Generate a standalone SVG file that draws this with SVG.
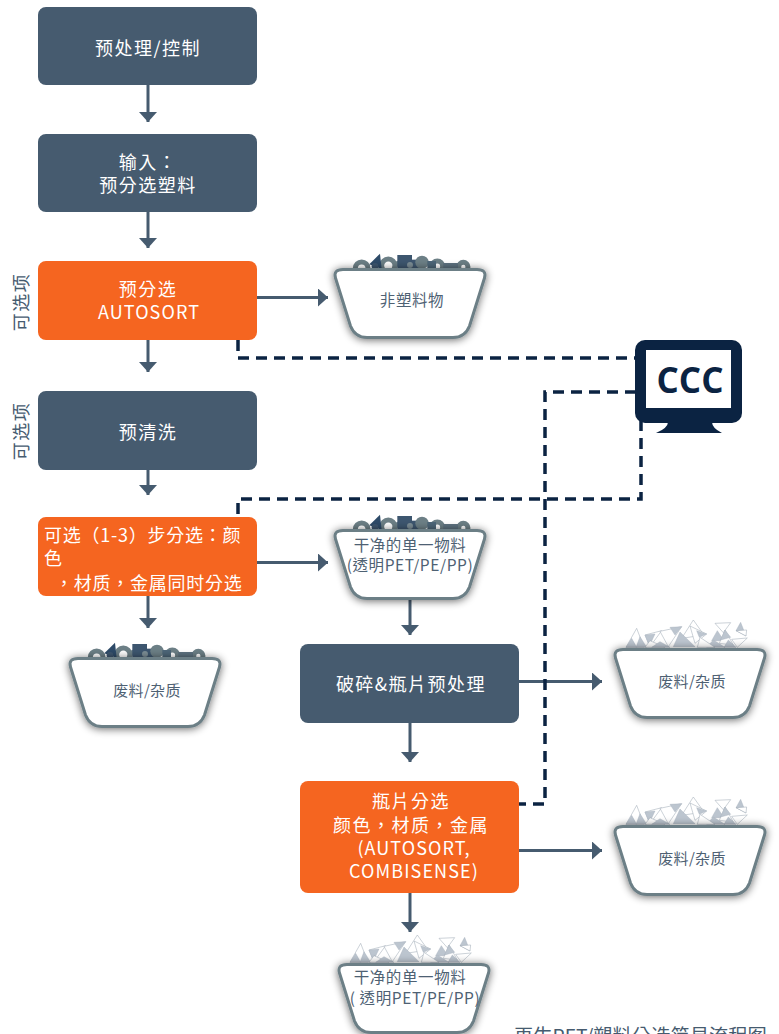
<svg xmlns="http://www.w3.org/2000/svg" width="779" height="1034" viewBox="0 0 779 1034">
<style>
text{font-family:"Noto Sans CJK TC","Noto Sans CJK SC","Noto Sans",sans-serif}
.b{fill:#465b6f}.o{fill:#f56520}
.t{fill:#fff;font-size:18px;letter-spacing:1.5px;text-anchor:middle}
.la{letter-spacing:1.1px}
.l{fill:#fff;font-size:18px;letter-spacing:.75px}
.bt{fill:#4e6173;font-size:15.500px;letter-spacing:.6px;text-anchor:middle}
.bw{fill:#4e6173;font-size:15px;letter-spacing:.3px;text-anchor:middle}
.side{fill:#465b6f;font-size:18px;letter-spacing:1.5px;text-anchor:middle}
.flow{fill:none;stroke:#465b6f;stroke-width:3}
.dash{fill:none;stroke:#0b2342;stroke-width:3.500;stroke-dasharray:11 7}
.tw{fill:#fff;stroke:#97a3b0;stroke-width:1.500}
.tg{fill:#bcc5cf;stroke:#a3aebb;stroke-width:1.200}
</style>
<defs>
<marker id="ah" markerUnits="userSpaceOnUse" markerWidth="18" markerHeight="18" refX="10" refY="9" orient="auto"><path d="M0 0L10 9L0 18Z" fill="#465b6f"/></marker>
<filter id="sh" x="-20%" y="-25%" width="140%" height="150%"><feGaussianBlur in="SourceAlpha" stdDeviation="4"/><feOffset dy="1"/><feComponentTransfer><feFuncA type="linear" slope=".6"/></feComponentTransfer><feMerge><feMergeNode/><feMergeNode in="SourceGraphic"/></feMerge></filter>
<path id="binshape" d="M9 1.500H143Q153 1.500 150.500 10L135.500 58Q131 69.500 119 69.500H33Q21 69.500 16.500 58L1.500 10Q-1 1.500 9 1.500Z" fill="#fff" stroke="#6c7f86" stroke-width="3" filter="url(#sh)"/>
<g id="rocks" transform="translate(-14,-23) scale(.3333)">
<g fill="none" stroke="#6c7f86" stroke-width="15">
<circle cx="125" cy="70" r="19"/><circle cx="205" cy="62" r="20"/><circle cx="352" cy="64" r="16"/><circle cx="430" cy="66" r="14"/><circle cx="240" cy="70" r="16"/>
</g>
<path d="M180 26L148 58L185 72Z" fill="#2d4a68"/><rect x="232" y="30" width="44" height="40" fill="#3d566f"/><rect x="274" y="44" width="28" height="26" fill="#3d566f"/>
<circle cx="306" cy="52" r="20" fill="#6c7f86"/><rect x="370" y="54" width="44" height="16" fill="#5d7280"/><circle cx="270" cy="60" r="9" fill="#7d8e96"/><rect x="322" y="48" width="26" height="22" fill="#4d6678"/><circle cx="165" cy="64" r="10" fill="#3d566f"/>
</g>
<g id="shards" transform="translate(-14,-38) scale(.3333)">
<path class="tw" d="M110 55L78 112L132 112Z"/><path class="tg" d="M95 85L78 112L110 112Z"/>
<path class="tw" d="M135 75L185 62L150 110Z"/><path class="tg" d="M135 75L165 72L148 108Z"/>
<path class="tw" d="M180 64L245 50L205 110Z"/><path class="tg" d="M210 52L245 50L225 75Z"/>
<path class="tw" d="M280 30L245 85L312 75Z"/><path class="tg" d="M240 66L285 110L220 110Z"/>
<path class="tw" d="M270 48L320 72L285 100Z"/><path class="tg" d="M290 62L320 72L298 82Z"/>
<path class="tw" d="M345 40L392 38L370 68Z"/>
<path class="tg" d="M422 37L408 62L438 78Z"/><path class="tw" d="M408 62L438 78L440 60Z"/>
<path class="tg" d="M352 62L335 92L372 92Z"/><path class="tw" d="M375 60L358 100L400 105Z"/><path class="tg" d="M375 60L362 90L392 82Z"/>
<path class="tw" d="M395 88L442 84L412 112Z"/><path class="tg" d="M340 90L375 112L320 112Z"/>
<path class="tw" d="M300 82L345 112L292 112Z"/><path class="tg" d="M120 80L108 112L140 112Z"/>
<path class="tw" d="M150 92L195 112L135 112Z"/><path class="tg" d="M180 95L155 112L210 112Z"/><path class="tg" d="M385 90L372 112L408 112Z"/>
</g>
<g id="binrock"><use href="#rocks"/><use href="#binshape"/></g>
<g id="binshard"><use href="#shards"/><use href="#binshape"/></g>
</defs>
<g id="connectors">
<path class="flow" d="M148 85V122" marker-end="url(#ah)"/>
<path class="flow" d="M148 212V248" marker-end="url(#ah)"/>
<path class="flow" d="M148 340V372" marker-end="url(#ah)"/>
<path class="flow" d="M148 470V495" marker-end="url(#ah)"/>
<path class="flow" d="M148 596V628" marker-end="url(#ah)"/>
<path class="flow" d="M257 297.500H328" marker-end="url(#ah)"/>
<path class="flow" d="M257 562.500H328" marker-end="url(#ah)"/>
<path class="flow" d="M410 598V635" marker-end="url(#ah)"/>
<path class="flow" d="M519 681.500H602" marker-end="url(#ah)"/>
<path class="flow" d="M410 723V762" marker-end="url(#ah)"/>
<path class="flow" d="M519 850.500H602" marker-end="url(#ah)"/>
<path class="flow" d="M410 893V932" marker-end="url(#ah)"/>
<path class="dash" d="M238 340V358H636"/>
<path class="dash" d="M636 392H545V804H519"/>
<path class="dash" d="M641 420V499H238V517"/>
</g>
<g id="n-pre"><rect class="b" x="38" y="7" width="219" height="78" rx="8"/><text class="t" x="148" y="55">预处理/控制</text></g>
<g id="n-input"><rect class="b" x="38" y="134" width="219" height="78" rx="8"/><text class="t" x="148" y="169">输入：</text><text class="t" x="148" y="192">预分选塑料</text></g>
<g id="n-presort"><rect class="o" x="38" y="261" width="219" height="79" rx="8"/><text class="t" x="148" y="296">预分选</text><text class="t la" x="149" y="319">AUTOSORT</text></g>
<g id="n-wash"><rect class="b" x="38" y="391" width="219" height="79" rx="8"/><text class="t" x="148" y="439">预清洗</text></g>
<g id="n-sort"><rect class="o" x="38" y="517" width="219" height="79" rx="8"/><text class="l" x="44" y="542">可选（1-3）步分选：颜</text><text class="l" x="44" y="565">色</text><text class="l" x="55" y="590">，材质，金属同时分选</text></g>
<g id="n-crush"><rect class="b" x="300" y="644" width="219" height="79" rx="8"/><text class="t" x="411" y="691">破碎&amp;瓶片预处理</text></g>
<g id="n-flake"><rect class="o" x="300" y="781" width="219" height="112" rx="8"/><text class="t" x="411" y="808">瓶片分选</text><text class="t" x="411" y="832">颜色，材质，金属</text><text class="t la" x="414" y="855">(AUTOSORT,</text><text class="t la" x="414" y="878">COMBISENSE)</text></g>
<g id="side1"><text class="side" transform="translate(28,302) rotate(-90)">可选项</text></g>
<g id="side2"><text class="side" transform="translate(28,431) rotate(-90)">可选项</text></g>
<g id="bin-nonplastic"><use href="#binrock" x="334" y="268"/><text class="bt" x="412" y="306">非塑料物</text></g>
<g id="bin-clean1"><use href="#binrock" x="334" y="529"/><text class="bt" x="410" y="551">干净的单一物料</text><text class="bt" x="410" y="571">(透明PET/PE/PP)</text></g>
<g id="bin-waste1"><use href="#binrock" x="69" y="657"/><text class="bw" x="147" y="696">废料/杂质</text></g>
<g id="bin-waste2"><use href="#binshard" x="614" y="648"/><text class="bw" x="692" y="687">废料/杂质</text></g>
<g id="bin-waste3"><use href="#binshard" x="614" y="825"/><text class="bw" x="692" y="864">废料/杂质</text></g>
<g id="bin-clean2"><use href="#binshard" x="338" y="963"/><text class="bt" x="410" y="983">干净的单一物料</text><text class="bt" x="415" y="1004">( 透明PET/PE/PP)</text></g>
<g id="ccc">
<rect x="635" y="340" width="107" height="83" rx="10" fill="#0b2342"/><rect x="646" y="350" width="85" height="58" fill="#fff"/>
<path d="M668 422Q668 428 656 433H722Q712 428 712 422Z" fill="#0b2342"/>
<text x="690" y="393" font-size="35" font-weight="700" fill="#0b2342" text-anchor="middle" style="font-family:'Open Sans',sans-serif">CCC</text>
</g>
<text id="caption" x="514" y="1043" font-size="19.300" fill="#465b6f">再生PET/塑料分选简易流程图</text>
</svg>
